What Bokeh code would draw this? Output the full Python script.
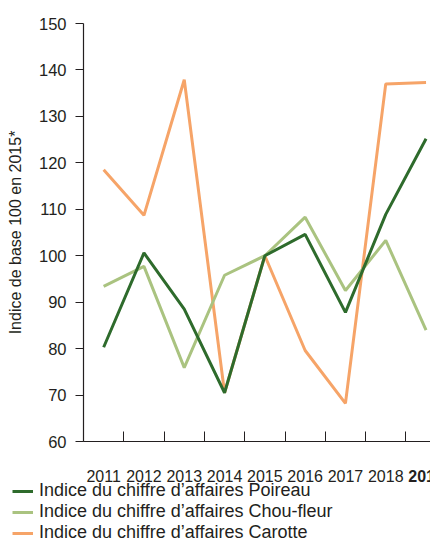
from bokeh.plotting import figure
from bokeh.models import (Range1d, LinearAxis, FixedTicker, Legend, LegendItem, Label)
from bokeh.embed import file_html
from bokeh.resources import INLINE

# ---- data ----
years = [2011, 2012, 2013, 2014, 2015, 2016, 2017, 2018, 2019]
poireau = [80.3, 100.6, 88.5, 70.5, 100.0, 104.6, 87.8, 108.9, 125.2]
chou_fleur = [93.4, 97.7, 75.9, 95.8, 100.0, 108.3, 92.5, 103.3, 84.0]
carotte = [118.5, 108.7, 137.9, 70.5, 100.0, 79.6, 68.2, 137.0, 137.3]
y_ticks = [60, 70, 80, 90, 100, 110, 120, 130, 140, 150]
series_names = ["Indice du chiffre d\u2019affaires Poireau",
                "Indice du chiffre d\u2019affaires Chou-fleur",
                "Indice du chiffre d\u2019affaires Carotte"]
y_title = "Indice de base 100 en 2015*"
highlight_year = 2019

# ---- layout (pixels) ----
W, H = 430, 541
AX_X = 83          # pixel of the y axis line
PITCH = 40.3       # pixels per year
Y_TOP, Y_BOT = 23, 441   # pixels of y = 150 and y = 60
Y_MIN, Y_MAX = y_ticks[0], y_ticks[-1]
x_left_edge = years[0] - 0.5
x_start = x_left_edge - AX_X / PITCH
x_end = x_left_edge + (W - AX_X) / PITCH
ppu = (Y_BOT - Y_TOP) / (Y_MAX - Y_MIN)
y_start = Y_MIN - (H - Y_BOT) / ppu
y_end = Y_MAX + Y_TOP / ppu
X_LABEL_GAP = 28

FONT = "Liberation Sans"
INK = "#231f20"
C_POIREAU = "#2e6b2c"
C_CHOU = "#aac380"
C_CAROTTE = "#f6a468"

p = figure(width=W, height=H, output_backend="svg", toolbar_location=None,
           x_range=Range1d(x_start, x_end), y_range=Range1d(y_start, y_end),
           x_axis_type=None, y_axis_type=None,
           min_border=0, min_border_left=0, min_border_right=0,
           min_border_top=0, min_border_bottom=0)
p.outline_line_color = None
p.xgrid.visible = False
p.ygrid.visible = False
p.background_fill_color = "white"
p.border_fill_color = "white"

# y axis
yax = LinearAxis(ticker=FixedTicker(ticks=y_ticks), fixed_location=x_left_edge,
                 bounds=(Y_MIN, Y_MAX))
yax.axis_line_color = INK
yax.axis_line_width = 1.2
yax.major_tick_line_color = INK
yax.major_tick_out = 8
yax.major_tick_in = 0
yax.minor_tick_line_color = None
yax.major_label_text_font = FONT
yax.major_label_text_font_size = "16.5px"
yax.major_label_text_color = INK
yax.major_label_standoff = 9
yax.axis_label = y_title
yax.axis_label_text_font = FONT
yax.axis_label_text_font_size = "16px"
yax.axis_label_text_font_style = "normal"
yax.axis_label_text_color = INK
yax.axis_label_standoff = 12
p.add_layout(yax, "left")

# x axis: boundary ticks as minor ticks, labels at the years
xax = LinearAxis(ticker=FixedTicker(ticks=years,
                                    minor_ticks=[y - 0.5 for y in years]),
                 fixed_location=Y_MIN, bounds=(x_left_edge, x_end))
xax.axis_line_color = INK
xax.axis_line_width = 1.2
xax.major_tick_line_color = None
xax.major_tick_in = 0
xax.major_tick_out = 0
xax.minor_tick_line_color = INK
xax.minor_tick_in = 10
xax.minor_tick_out = 0
xax.major_label_text_font = FONT
xax.major_label_text_font_size = "16px"
xax.major_label_text_color = INK
xax.major_label_standoff = X_LABEL_GAP
xax.major_label_overrides = {highlight_year: ""}
p.add_layout(xax, "below")

p.add_layout(Label(x=highlight_year, y=Y_MIN, x_units="data", y_units="data",
                   y_offset=-X_LABEL_GAP,
                   text=str(highlight_year), text_align="center",
                   text_baseline="top", text_font=FONT, text_font_size="16px",
                   text_font_style="bold", text_color=INK))

r_car = p.line(years, carotte, line_color=C_CAROTTE, line_width=3)
r_chou = p.line(years, chou_fleur, line_color=C_CHOU, line_width=3)
r_poi = p.line(years, poireau, line_color=C_POIREAU, line_width=3)

legend = Legend(items=[LegendItem(label=series_names[0], renderers=[r_poi]),
                       LegendItem(label=series_names[1], renderers=[r_chou]),
                       LegendItem(label=series_names[2], renderers=[r_car])],
                location=(12, -2), orientation="vertical",
                padding=0, margin=0, spacing=-2,
                glyph_width=21, glyph_height=18, label_height=18,
                label_standoff=6,
                label_text_font=FONT, label_text_font_size="18px",
                label_text_color=INK,
                border_line_color=None, background_fill_alpha=0)
p.add_layout(legend, "center")

open("out.html", "w").write(file_html(p, INLINE))
